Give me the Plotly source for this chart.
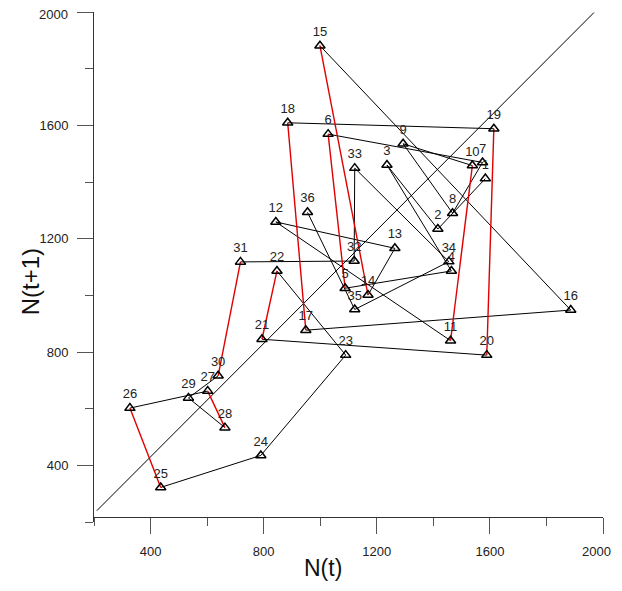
import plotly.graph_objects as go

# Point labels (time index t)
labels = [str(i) for i in range(1, 37)]

# N(t) values
nt = [1584, 1416, 1236, 1464, 1088, 1028, 1574, 1468, 1293, 1538,
      1461, 843, 1264, 1169, 999, 1886, 949, 885, 1614, 1589,
      794, 847, 1090, 790, 436, 327, 602, 663, 534, 639,
      718, 1120, 1122, 1455, 1122, 955]

# N(t+1) values
nt1 = [1412, 1234, 1460, 1086, 1025, 1569, 1469, 1290, 1535, 1458,
       840, 1259, 1166, 1001, 1881, 948, 877, 1609, 1588, 789,
       845, 1086, 789, 435, 322, 602, 662, 533, 638, 716,
       1118, 1121, 1449, 1119, 950, 1293]

# segments (start label) drawn in red
red_starts = [5, 10, 14, 17, 19, 21, 25, 27, 30]

# reference line
diag_x = [210, 1968]
diag_y = [240, 1998]

x_ticks = [400, 800, 1200, 1600, 2000]
x_ticktext = ["400", "800", "1200", "1600", "2000"]
y_ticks = [400, 800, 1200, 1600, 2000]
y_ticktext = ["400", "800", "1200", "1600", "2000"]

FONT = "Liberation Sans, Arial, sans-serif"

bx, by, rx, ry = [], [], [], []
for k in range(len(nt) - 1):
    if (k + 1) in red_starts:
        rx += [nt[k], nt[k + 1], None]
        ry += [nt1[k], nt1[k + 1], None]
    else:
        bx += [nt[k], nt[k + 1], None]
        by += [nt1[k], nt1[k + 1], None]

fig = go.Figure()
fig.add_trace(go.Scatter(x=diag_x, y=diag_y, mode="lines",
                         line=dict(color="black", width=1), hoverinfo="skip"))
fig.add_trace(go.Scatter(x=bx, y=by, mode="lines",
                         line=dict(color="black", width=1), hoverinfo="skip"))
fig.add_trace(go.Scatter(x=rx, y=ry, mode="lines",
                         line=dict(color="#e00000", width=1.4), hoverinfo="skip"))
fig.add_trace(go.Scatter(x=nt, y=nt1, mode="markers+text", text=labels,
                         textposition="top center",
                         textfont=dict(family=FONT, size=13, color="#222222"),
                         marker=dict(symbol="triangle-up-open", size=9,
                                     color="black", line=dict(width=1.5, color="black"))))

axis_common = dict(
    showgrid=False, zeroline=False, showline=True, linecolor="#333333", linewidth=1,
    automargin=False, ticklabeloverflow="allow",
    ticks="outside", ticklen=16, tickwidth=1, tickcolor="#555555",
    tickfont=dict(family=FONT, size=13, color="#222222"),
    minor=dict(ticks="outside", ticklen=8, tickwidth=1, tickcolor="#555555", dtick=200, tick0=0),
)

# the page body adds an 8px margin on every side; size the figure to fit inside
OFF = 8
W, H = 622 - 2 * OFF, 591 - 2 * OFF
L, T = 94 - OFF, 12 - OFF
R = W - (603.3 - OFF)
B = H - (521.6 - OFF)
pw, ph = W - L - R, H - T - B


def px_to_paper(px, py):
    fx, fy = px - OFF, py - OFF
    return (fx - L) / pw, (H - B - fy) / ph


tx, ty = px_to_paper(323, 568)
yx, yy = px_to_paper(30, 282)
_, lab_y = px_to_paper(0, 551)
ylab_x, _ = px_to_paper(70, 0)

# edge tick labels are drawn as annotations so they are not clipped at the page edge
x_tick_axis = x_ticktext[:-1] + [""]
y_tick_axis = y_ticktext[:-1] + [""]

fig.update_layout(
    width=W, height=H,
    margin=dict(l=L, r=R, t=T, b=B, autoexpand=False),
    paper_bgcolor="white", plot_bgcolor="white",
    showlegend=False,
    xaxis=dict(range=[200, 2000], tickvals=x_ticks, ticktext=x_tick_axis,
               anchor="free", position=0.0096, ticklabelstandoff=6, **axis_common),
    yaxis=dict(range=[200, 2000], tickvals=y_ticks, ticktext=y_tick_axis,
               ticklabelstandoff=6, **axis_common),
    annotations=[
        dict(text=x_ticktext[-1], xref="x", yref="paper", x=x_ticks[-1], y=lab_y,
             xanchor="right", yanchor="middle", xshift=10, showarrow=False,
             font=dict(family=FONT, size=13, color="#222222")),
        dict(text=y_ticktext[-1], xref="paper", yref="y", x=ylab_x, y=y_ticks[-1],
             xanchor="right", yanchor="middle", yshift=-2, showarrow=False,
             font=dict(family=FONT, size=13, color="#222222")),
        dict(text="N(t)", xref="paper", yref="paper", x=tx, y=ty,
             xanchor="center", yanchor="middle",
             showarrow=False, font=dict(family=FONT, size=23, color="#111111")),
        dict(text="N(t+1)", xref="paper", yref="paper", x=yx, y=yy,
             xanchor="center", yanchor="middle",
             showarrow=False, textangle=-90,
             font=dict(family=FONT, size=24, color="#111111")),
    ],
)

fig.write_html("out.html")
